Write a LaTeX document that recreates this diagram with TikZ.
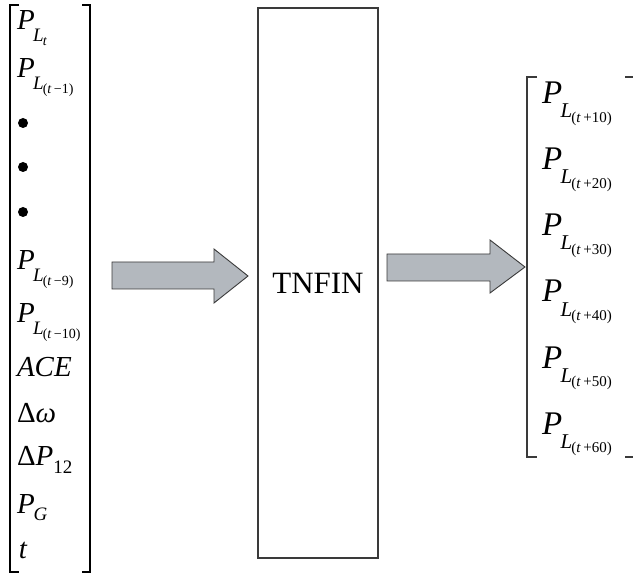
\documentclass[tikz,border=0pt]{standalone}
\usepackage{fontspec}
\setmainfont{Liberation Serif}
\definecolor{arrowfill}{HTML}{B3B8BE}
\definecolor{edgegray}{HTML}{3A3A3A}
\newcommand\lsz{\fontsize{29}{29}\selectfont}
\newcommand\lsub{\fontsize{19}{19}\selectfont}
\newcommand\lssub{\fontsize{14}{14}\selectfont}
\newcommand\rsz{\fontsize{33}{33}\selectfont}
\newcommand\rsub{\fontsize{21}{21}\selectfont}
\newcommand\rssub{\fontsize{15}{15}\selectfont}
% left column P_{L_{#1}}
\newcommand\LP[1]{{\lsz\textit{P}}\kern-1.5pt\raisebox{-12pt}{\lsub\textit{L}\kern-1pt\raisebox{-4pt}{\lssub #1}}}
% right column P_{L_{(t+#1)}}
\newcommand\RP[1]{{\rsz\textit{P}}\kern-1.5pt\raisebox{-14pt}{\rsub\textit{L}\kern-1pt\raisebox{-5pt}{\rssub(\textit{t}\,+#1)}}}
\tikzset{
  item/.style={anchor=base west, inner sep=0pt, outer sep=0pt},
  brk/.style={line width=2pt, black},
  rbrk/.style={line width=1.2pt, edgegray},
  blockarrow/.style={fill=arrowfill, draw=edgegray, line width=0.9pt, line join=miter},
  dotmark/.style={circle, fill=black, inner sep=0pt, minimum size=10pt},
  procbox/.style={draw=edgegray, line width=1.5pt, minimum width=120pt, minimum height=550pt, inner sep=0pt, font=\fontsize{31}{31}\selectfont}
}
\begin{document}
\begin{tikzpicture}[x=1pt,y=-1pt]
\useasboundingbox (0,0) rectangle (633,575);
% left bracket
\draw[brk] (19,5) -- (10,5) -- (10,572) -- (19,572);
\draw[brk] (82,5) -- (90,5) -- (90,572) -- (82,572);
% left items
\node[item] (i1) at (17,30) {\LP{\textit{t}}};
\node[item] (i2) at (17,78) {\LP{(\textit{t}\,−1)}};
\node[dotmark] (d1) at (23,123) {};
\node[dotmark] (d2) at (23,167) {};
\node[dotmark] (d3) at (23,212) {};
\node[item] (i3) at (17,270) {\LP{(\textit{t}\,−9)}};
\node[item] (i4) at (17,323) {\LP{(\textit{t}\,−10)}};
\node[item] (i5) at (17,377) {\lsz\textit{ACE}};
\node[item] (i6) at (17,422) {\lsz Δ\textit{ω}};
\node[item] (i7) at (17,465) {\lsz Δ\textit{P}\raisebox{-8pt}{\lsub 12}};
\node[item] (i8) at (17,513) {\lsz\textit{P}\kern-1pt\raisebox{-7pt}{\lsub\textit{G}}};
\node[item] (i9) at (19,558) {\lsz\textit{t}};
% process box
\node[procbox] (tnfin) at (318,283) {TNFIN};
% left block arrow
\draw[blockarrow] (112,262) -- (214,262) -- (214,249) -- (248,276) -- (214,303) -- (214,289) -- (112,289) -- cycle;
% right block arrow
\draw[blockarrow] (387,254) -- (490,254) -- (490,240) -- (525,267) -- (490,293) -- (490,281) -- (387,281) -- cycle;
% right bracket
\draw[rbrk] (537,77) -- (527,77) -- (527,457) -- (537,457);
\draw[rbrk] (625,77) -- (633,77);
\draw[rbrk] (625,457) -- (633,457);
% right items
\node[item] (o1) at (542,104) {\RP{10}};
\node[item] (o2) at (542,170) {\RP{20}};
\node[item] (o3) at (542,236) {\RP{30}};
\node[item] (o4) at (542,302) {\RP{40}};
\node[item] (o5) at (542,368) {\RP{50}};
\node[item] (o6) at (542,434) {\RP{60}};
\end{tikzpicture}
\end{document}
